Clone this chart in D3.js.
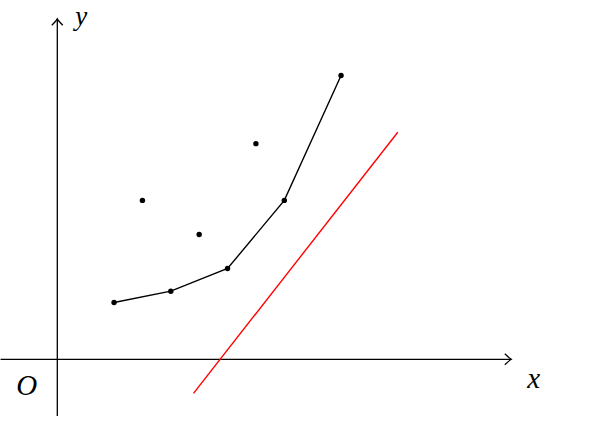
<!DOCTYPE html>
<html lang="en">
<head>
    <meta charset="utf-8">
    <title>Points, polyline and line</title>
    <style>
        body { margin: 0; background: #fff; }
        text { font-family: "Liberation Serif", "DejaVu Serif", serif; font-style: italic; }
    </style>
</head>
<body>
    <script src="https://cdn.jsdelivr.net/npm/d3@7/dist/d3.min.js"></script>
    <script>
    var w = 605;
    var h = 443;

    // data (in axis units)
    var curveX = [1, 2, 3, 4, 5];
    var curveY = [1, 1.2, 1.6, 2.8, 5];
    var dotX = [1.5, 2.5, 3.5];
    var dotY = [2.8, 2.2, 3.8];
    var redLineX = [2.4, 6];
    var redLineY = [-0.6, 4];
    var xRange = [-1, 8];
    var yRange = [-1, 6];
    var axisLabels = ["x", "y", "O"];

    var unit = 56.75;
    var ox = 57.3, oy = 359.3;

    var x = d3.scaleLinear().domain([0, 1]).range([ox, ox + unit]);
    var y = d3.scaleLinear().domain([0, 1]).range([oy, oy - unit]);

    var svg = d3.select("body").append("svg")
        .attr("width", w)
        .attr("height", h);

    // axes
    var axes = svg.append("g")
        .attr("stroke", "#000")
        .attr("stroke-width", 1.3)
        .attr("fill", "none");

    axes.append("line")
        .attr("x1", x(xRange[0])).attr("y1", y(0))
        .attr("x2", x(xRange[1])).attr("y2", y(0));
    axes.append("line")
        .attr("x1", x(0)).attr("y1", y(yRange[0]))
        .attr("x2", x(0)).attr("y2", y(yRange[1]));

    // arrow heads (open chevrons)
    var a = 6.5, b = 5.5;
    axes.append("path")
        .attr("d", "M" + (x(xRange[1]) - a) + "," + (y(0) - b) +
            " Q" + (x(xRange[1]) - 2) + "," + (y(0) - 1.2) + " " + x(xRange[1]) + "," + y(0) +
            " Q" + (x(xRange[1]) - 2) + "," + (y(0) + 1.2) + " " + (x(xRange[1]) - a) + "," + (y(0) + b));
    axes.append("path")
        .attr("d", "M" + (x(0) - b) + "," + (y(yRange[1]) + a) +
            " Q" + (x(0) - 1.2) + "," + (y(yRange[1]) + 2) + " " + x(0) + "," + y(yRange[1]) +
            " Q" + (x(0) + 1.2) + "," + (y(yRange[1]) + 2) + " " + (x(0) + b) + "," + (y(yRange[1]) + a));

    // red line
    svg.append("line")
        .attr("x1", x(redLineX[0])).attr("y1", y(redLineY[0]))
        .attr("x2", x(redLineX[1])).attr("y2", y(redLineY[1]))
        .attr("stroke", "#ff0000")
        .attr("stroke-width", 1.4);

    // polyline through curve points
    var curve = curveX.map(function(d, i) { return [d, curveY[i]]; });
    svg.append("path")
        .datum(curve)
        .attr("fill", "none")
        .attr("stroke", "#000")
        .attr("stroke-width", 1.4)
        .attr("d", d3.line().x(function(d) { return x(d[0]); }).y(function(d) { return y(d[1]); }));

    svg.selectAll(".cdot").data(curve).enter().append("circle")
        .attr("class", "cdot")
        .attr("cx", function(d) { return x(d[0]); })
        .attr("cy", function(d) { return y(d[1]); })
        .attr("r", 2.7)
        .attr("fill", "#000");

    var dots = dotX.map(function(d, i) { return [d, dotY[i]]; });
    svg.selectAll(".sdot").data(dots).enter().append("circle")
        .attr("class", "sdot")
        .attr("cx", function(d) { return x(d[0]); })
        .attr("cy", function(d) { return y(d[1]); })
        .attr("r", 2.7)
        .attr("fill", "#000");

    // axis labels
    svg.append("text")
        .attr("x", x(xRange[1]) + 16).attr("y", y(0) + 28.5)
        .attr("font-size", 29)
        .text(axisLabels[0]);
    svg.append("text")
        .attr("x", x(0) + 18).attr("y", y(yRange[1]) + 6)
        .attr("font-size", 27)
        .text(axisLabels[1]);
    svg.append("text")
        .attr("x", x(0) - 41).attr("y", y(0) + 36)
        .attr("font-size", 29)
        .text(axisLabels[2]);
    </script>
</body>
</html>
